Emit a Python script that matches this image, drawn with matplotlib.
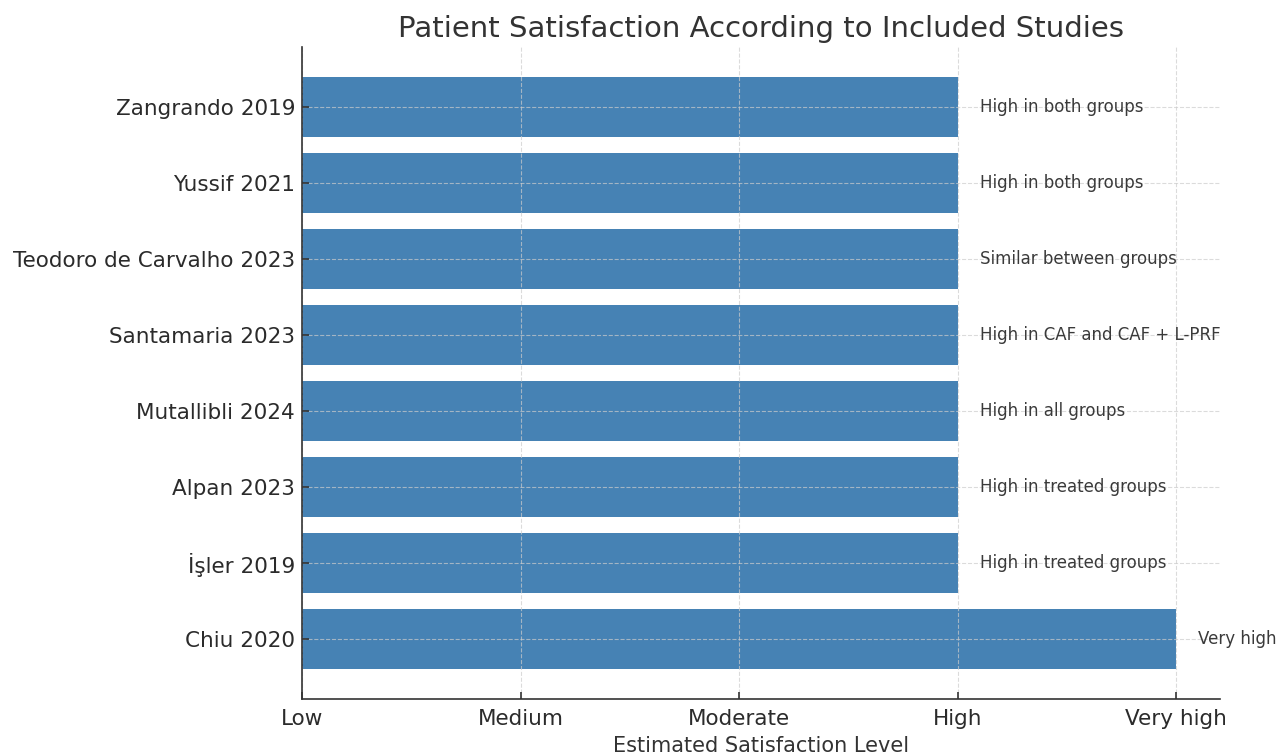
import matplotlib.pyplot as plt

# Studies listed top to bottom, with the satisfaction level
studies = ["Zangrando 2019", "Yussif 2021", "Teodoro de Carvalho 2023",
           "Santamaria 2023", "Mutallibli 2024", "Alpan 2023",
           "İşler 2019", "Chiu 2020"]
levels = [3, 3, 3, 3, 3, 3, 3, 4]
notes = ["High in both groups", "High in both groups", "Similar between groups",
         "High in CAF and CAF + L-PRF", "High in all groups",
         "High in treated groups", "High in treated groups", "Very high"]
level_names = ["Low", "Medium", "Moderate", "High", "Very high"]

text_color = "#2b2b2b"

fig = plt.figure(figsize=(12.86, 7.54), dpi=100)
ax = fig.add_axes([0.2348, 0.0729, 0.7139, 0.8648])

ax.barh(studies, levels, height=0.8, color="steelblue")
ax.invert_yaxis()

# Short description next to each bar
for i, (lvl, note) in enumerate(zip(levels, notes)):
    ax.text(lvl + 0.1, i, note, va="center", ha="left",
            fontsize=12, color="#3a3a3a")

ax.set_xticks(range(len(level_names)))
ax.set_xticklabels(level_names)
ax.tick_params(axis="both", labelsize=15.5, colors="#333333",
               direction="in", length=5, width=1.2, pad=5)
ax.tick_params(axis="x", pad=7)
ax.tick_params(axis="both", labelcolor=text_color)

ax.set_title("Patient Satisfaction According to Included Studies",
             fontsize=21, color="#333333", pad=7)
ax.set_xlabel("Estimated Satisfaction Level", fontsize=15, color="#333333",
              labelpad=5)

ax.grid(True, linestyle="--", color="#cccccc", alpha=0.7)
for side in ["top", "right"]:
    ax.spines[side].set_visible(False)
for side in ["left", "bottom"]:
    ax.spines[side].set_color("#333333")
    ax.spines[side].set_linewidth(1.2)

fig.savefig("out.png", dpi=100)
